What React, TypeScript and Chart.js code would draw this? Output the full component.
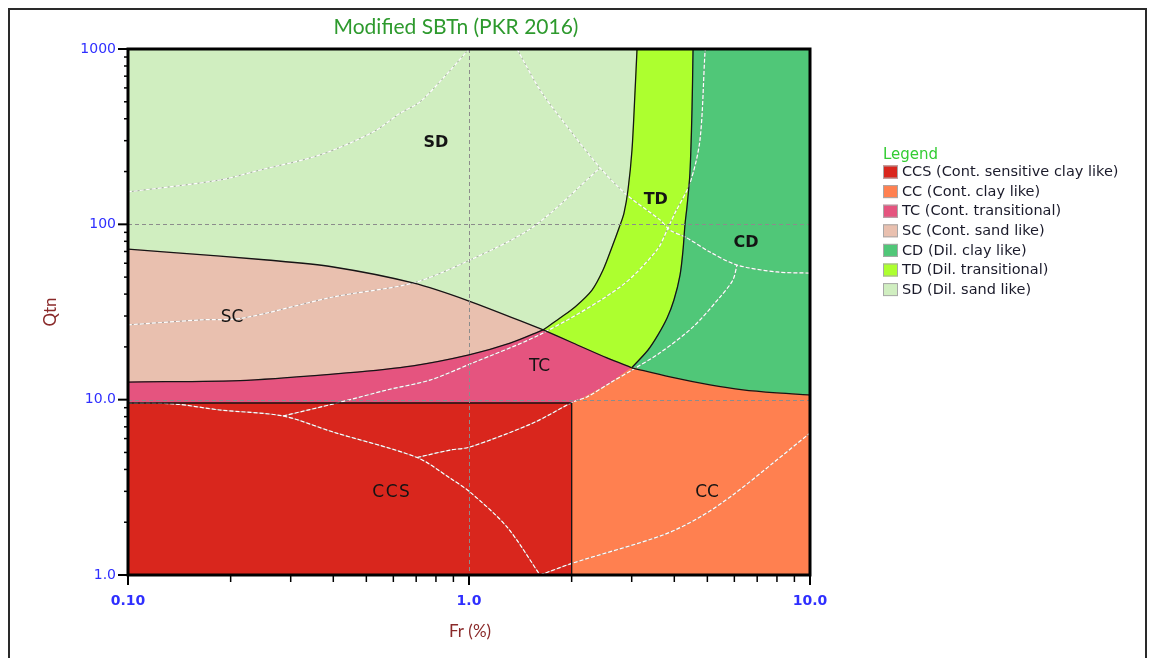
import React, { useEffect, useRef } from "react";
import { Chart, registerables } from "chart.js";

Chart.register(...registerables);

// ---------- axes ----------
const FR_MIN = 0.1;
const FR_MAX = 10;
const QTN_MIN = 1;
const QTN_MAX = 1000;
const FR_TICKS = [0.1, 1, 10];
const FR_TICK_LABELS = ["0.10", "1.0", "10.0"];
const QTN_TICKS = [1, 10, 100, 1000];
const QTN_TICK_LABELS = ["1.0", "10.0", "100", "1000"];

// ---------- zones ----------
const ZONE_CODES = ["CCS", "CC", "TC", "SC", "CD", "TD", "SD"];
const ZONE_NAMES = [
  "CCS (Cont. sensitive clay like)",
  "CC (Cont. clay like)",
  "TC (Cont. transitional)",
  "SC (Cont. sand like)",
  "CD (Dil. clay like)",
  "TD (Dil. transitional)",
  "SD (Dil. sand like)",
];
const ZONE_COLORS = ["#D9261D", "#FF8050", "#E5547F", "#E9C0AF", "#50C778", "#ADFF2F", "#D0EEC0"];
const ZONE_LABEL_FR = [0.594, 4.99, 1.61, 0.202, 6.49, 3.53, 0.8];
const ZONE_LABEL_QTN = [2.94, 2.94, 15.4, 29.2, 78.3, 137.6, 291];

// ---------- boundaries (Fr %, Qtn) ----------
const CCS_TOP_QTN = 9.57;
const CCS_CC_FR = 2.0;
const SD_SC_LINE = [[0.1, 72.3], [0.13, 69.5], [0.256, 62.6], [0.4, 57.1], [0.685, 46.3], [1.0, 36.5], [1.65, 25.0]];
const SC_TC_LINE = [[0.1, 12.6], [0.223, 12.9], [0.438, 14.2], [0.685, 15.6], [1.0, 18.0], [1.32, 21.0], [1.65, 25.0]];
const SD_TD_LINE = [[3.11, 1000], [3.07, 584], [3.006, 265.5], [2.926, 157], [2.848, 116], [2.754, 95.3], [2.627, 74.3], [2.472, 54.9], [2.295, 42.2], [2.046, 33.8], [1.849, 29.2], [1.65, 25.0]];
const TD_CD_LINE = [[4.54, 1000], [4.508, 449], [4.446, 196.3], [4.357, 125.6], [4.3, 100], [4.243, 71.4], [4.158, 51.4], [3.99, 37.0], [3.81, 29.2], [3.583, 23.4], [3.35, 19.2], [3.0, 15.2]];
const TC_TD_LINE = [[1.65, 25.0], [2.018, 21.05], [2.539, 17.3], [3.0, 15.2]];
const CD_CC_LINE = [[3.0, 15.2], [3.885, 13.47], [5.09, 12.13], [6.36, 11.36], [8.0, 10.92], [10, 10.63]];
const TC_CC_LINE = [[2.0, 9.57], [2.2, 10.4], [2.6, 12.5], [3.0, 15.2]];

// ---------- background contours ----------
const CONTOUR_1 = [[0.1, 153], [0.186, 179], [0.244, 204], [0.366, 249], [0.523, 336], [0.628, 430], [0.718, 499], [0.85, 700], [1.0, 1000]];
const CONTOUR_2 = [[1.383, 1000], [1.615, 584], [1.874, 394], [2.423, 210], [2.906, 147], [3.632, 106], [3.885, 92.8], [4.357, 83.6], [5.09, 69.5], [6.107, 58.6], [8.0, 53.5], [10, 52.7]];
const CONTOUR_3 = [[0.1, 26.7], [0.163, 28.5], [0.217, 29.2], [0.399, 38.5], [0.685, 46.3], [1.007, 62.6], [1.541, 96.6], [2.423, 210]];
const CONTOUR_4 = [[0.285, 8.07], [0.41, 9.57], [0.575, 11.36], [0.768, 12.93], [1.007, 15.97], [1.65, 24.0], [2.773, 43.9], [3.558, 71.4], [3.833, 95.3], [4.018, 116], [4.446, 172], [4.757, 303], [4.921, 961], [4.94, 1000]];
const CONTOUR_5 = [[0.704, 4.68], [0.88, 5.16], [1.007, 5.37], [1.541, 7.36], [2.018, 9.7], [2.218, 10.36], [2.59, 12.45], [3.05, 15.0], [3.632, 18.5], [4.54, 26.0], [5.447, 38.5], [5.94, 48.1], [6.107, 58.6]];
const CONTOUR_6 = [[0.1, 9.57], [0.137, 9.45], [0.186, 8.73], [0.285, 8.07], [0.399, 6.54], [0.704, 4.68], [0.88, 3.57], [1.007, 2.97], [1.292, 1.88], [1.615, 1.0]];
const CONTOUR_7 = [[1.615, 1.0], [2.018, 1.17], [3.706, 1.69], [4.757, 2.14], [5.94, 2.86], [7.79, 4.35], [10, 6.45]];

const TENSION = 0.3;

const pts = (a: number[][]) => a.map(([x, y]) => ({ x, y }));
const rev = (a: number[][]) => a.slice().reverse();
const edge = (a: number[], b: number[]) => [a, b];
const join = (...edges: number[][][]) => ([] as number[][]).concat(...edges);

function buildPolygons(): number[][][] {
  const SD_SC0 = SD_SC_LINE[0];
  const SC_TC0 = SC_TC_LINE[0];
  const TD_TOP = SD_TD_LINE[0];
  const CD_TOP = TD_CD_LINE[0];
  const CC_RIGHT = CD_CC_LINE[CD_CC_LINE.length - 1];
  const ccs = join(
    edge([FR_MIN, QTN_MIN], [CCS_CC_FR, QTN_MIN]),
    edge([CCS_CC_FR, QTN_MIN], [CCS_CC_FR, CCS_TOP_QTN]),
    edge([CCS_CC_FR, CCS_TOP_QTN], [FR_MIN, CCS_TOP_QTN]),
    edge([FR_MIN, CCS_TOP_QTN], [FR_MIN, QTN_MIN])
  );
  const cc = join(
    edge([CCS_CC_FR, QTN_MIN], [FR_MAX, QTN_MIN]),
    edge([FR_MAX, QTN_MIN], CC_RIGHT),
    rev(CD_CC_LINE),
    rev(TC_CC_LINE),
    edge([CCS_CC_FR, CCS_TOP_QTN], [CCS_CC_FR, QTN_MIN])
  );
  const tc = join(
    edge([FR_MIN, CCS_TOP_QTN], [CCS_CC_FR, CCS_TOP_QTN]),
    TC_CC_LINE,
    rev(TC_TD_LINE),
    rev(SC_TC_LINE),
    edge(SC_TC0, [FR_MIN, CCS_TOP_QTN])
  );
  const sc = join(SD_SC_LINE, rev(SC_TC_LINE), edge(SC_TC0, SD_SC0));
  const cd = join(TD_CD_LINE, CD_CC_LINE, edge(CC_RIGHT, [FR_MAX, QTN_MAX]), edge([FR_MAX, QTN_MAX], CD_TOP));
  const td = join(edge(TD_TOP, CD_TOP), TD_CD_LINE, rev(TC_TD_LINE), rev(SD_TD_LINE));
  const sd = join(edge([FR_MIN, QTN_MAX], TD_TOP), SD_TD_LINE, rev(SD_SC_LINE), edge(SD_SC0, [FR_MIN, QTN_MAX]));
  return [ccs, cc, tc, sc, cd, td, sd];
}

function buildDatasets() {
  const ds: any[] = [];
  buildPolygons().forEach((poly, i) => {
    ds.push({
      data: pts(poly),
      backgroundColor: ZONE_COLORS[i],
      borderColor: ZONE_COLORS[i],
      borderWidth: 1,
      fill: "shape",
      pointRadius: 0,
      tension: TENSION,
      order: 5,
    });
  });
  const contours = [CONTOUR_1, CONTOUR_2, CONTOUR_3, CONTOUR_4, CONTOUR_5, CONTOUR_6, CONTOUR_7];
  contours.forEach((c) => {
    ds.push({ data: pts(c), borderColor: "rgba(150,150,150,0.75)", borderWidth: 1, fill: false, pointRadius: 0, tension: TENSION, order: 4 });
    ds.push({ data: pts(c), borderColor: "#ffffff", borderWidth: 1.2, borderDash: [4, 2], fill: false, pointRadius: 0, tension: TENSION, order: 3 });
  });
  const blackLines = [
    SD_SC_LINE,
    SC_TC_LINE,
    SD_TD_LINE,
    TD_CD_LINE,
    TC_TD_LINE,
    CD_CC_LINE,
    [[FR_MIN, CCS_TOP_QTN], [CCS_CC_FR, CCS_TOP_QTN]],
    [[CCS_CC_FR, QTN_MIN], [CCS_CC_FR, CCS_TOP_QTN]],
  ];
  blackLines.forEach((l) => {
    ds.push({ data: pts(l), borderColor: "#151515", borderWidth: 1.3, fill: false, pointRadius: 0, tension: TENSION, order: 1 });
  });
  return ds;
}

function minorValues(min: number, max: number) {
  const out: number[] = [];
  for (let d = min; d < max; d *= 10) {
    for (let k = 2; k <= 9; k++) out.push(d * k);
  }
  return out;
}

const overlayPlugin = {
  id: "sbtOverlay",
  afterDatasetsDraw(chart: any) {
    const { ctx, chartArea: a, scales } = chart;
    const x = scales.x;
    const y = scales.y;
    ctx.save();
    ctx.strokeStyle = "#8c8c8c";
    ctx.lineWidth = 1;
    ctx.setLineDash([4, 3]);
    FR_TICKS.forEach((v) => {
      if (v <= FR_MIN || v >= FR_MAX) return;
      const px = Math.round(x.getPixelForValue(v)) + 0.5;
      ctx.beginPath();
      ctx.moveTo(px, a.top);
      ctx.lineTo(px, a.bottom);
      ctx.stroke();
    });
    QTN_TICKS.forEach((v) => {
      if (v <= QTN_MIN || v >= QTN_MAX) return;
      const py = Math.round(y.getPixelForValue(v)) + 0.5;
      ctx.beginPath();
      ctx.moveTo(a.left, py);
      ctx.lineTo(a.right, py);
      ctx.stroke();
    });
    ctx.restore();
  },
  afterDraw(chart: any) {
    const { ctx, chartArea: a, scales } = chart;
    const x = scales.x;
    const y = scales.y;
    ctx.save();
    // frame
    ctx.setLineDash([]);
    ctx.strokeStyle = "#000";
    ctx.lineWidth = 3;
    ctx.strokeRect(a.left, a.top, a.right - a.left, a.bottom - a.top);

    // ticks
    ctx.lineWidth = 2;
    QTN_TICKS.forEach((v) => {
      const py = y.getPixelForValue(v);
      ctx.beginPath();
      ctx.moveTo(a.left - 10, py);
      ctx.lineTo(a.left, py);
      ctx.stroke();
    });
    FR_TICKS.forEach((v) => {
      const px = x.getPixelForValue(v);
      ctx.beginPath();
      ctx.moveTo(px, a.bottom);
      ctx.lineTo(px, a.bottom + 10);
      ctx.stroke();
    });
    ctx.lineWidth = 1.5;
    minorValues(QTN_MIN, QTN_MAX).forEach((v) => {
      const py = y.getPixelForValue(v);
      ctx.beginPath();
      ctx.moveTo(a.left - 4, py);
      ctx.lineTo(a.left, py);
      ctx.stroke();
    });
    minorValues(FR_MIN, FR_MAX).forEach((v) => {
      const px = x.getPixelForValue(v);
      ctx.beginPath();
      ctx.moveTo(px, a.bottom);
      ctx.lineTo(px, a.bottom + 7);
      ctx.stroke();
    });

    // tick labels
    ctx.fillStyle = "#2f2fff";
    ctx.font = '14px "DejaVu Sans"';
    ctx.textAlign = "right";
    ctx.textBaseline = "middle";
    QTN_TICKS.forEach((v, i) => {
      ctx.fillText(QTN_TICK_LABELS[i], a.left - 12, y.getPixelForValue(v));
    });
    ctx.font = 'bold 14px "DejaVu Sans"';
    ctx.textAlign = "center";
    FR_TICKS.forEach((v, i) => {
      ctx.fillText(FR_TICK_LABELS[i], x.getPixelForValue(v), a.bottom + 26);
    });

    // axis titles
    ctx.fillStyle = "#8a2a2a";
    ctx.font = '17px Lato';
    ctx.fillText("Fr (%)", 470, 632);
    ctx.save();
    ctx.translate(51, 312);
    ctx.rotate(-Math.PI / 2);
    ctx.fillText("Qtn", 0, 0);
    ctx.restore();

    // chart title
    ctx.fillStyle = "#2e9a2e";
    ctx.font = '21px Lato';
    ctx.fillText("Modified SBTn (PKR 2016)", 456, 27);

    // zone labels
    ctx.fillStyle = "#141414";
    ZONE_CODES.forEach((code, i) => {
      const bold = code === "SD" || code === "TD" || code === "CD";
      ctx.font = (bold ? "bold 16px" : "17px") + ' "DejaVu Sans"';
      (ctx as any).letterSpacing = code === "CCS" ? "1.5px" : "0px";
      ctx.fillText(code, x.getPixelForValue(ZONE_LABEL_FR[i]), y.getPixelForValue(ZONE_LABEL_QTN[i]));
    });
    (ctx as any).letterSpacing = "0px";

    // legend
    ctx.textAlign = "left";
    ctx.fillStyle = "#33cc33";
    ctx.font = '15px "DejaVu Sans"';
    ctx.fillText("Legend", 883, 155);
    ctx.font = '14.5px "DejaVu Sans"';
    ZONE_NAMES.forEach((name, i) => {
      const cy = 172 + i * 19.6;
      ctx.fillStyle = ZONE_COLORS[i];
      ctx.fillRect(883, cy - 6.5, 15, 13);
      ctx.strokeStyle = "#a8a8a8";
      ctx.lineWidth = 1;
      ctx.strokeRect(883.5, cy - 6, 14, 12);
      ctx.fillStyle = "#1a1a2a";
      ctx.fillText(name, 902, cy + 0.5);
    });
    ctx.restore();
  },
};

export default function App() {
  const ref = useRef<HTMLCanvasElement>(null);
  useEffect(() => {
    if (!ref.current) return;
    const chart = new Chart(ref.current, {
      type: "line",
      data: { datasets: buildDatasets() },
      options: {
        responsive: false,
        animation: false,
        devicePixelRatio: 1,
        events: [],
        layout: { padding: { left: 128, top: 49, right: 344, bottom: 83 } },
        plugins: { legend: { display: false }, tooltip: { enabled: false }, title: { display: false } },
        scales: {
          x: { type: "logarithmic", min: FR_MIN, max: FR_MAX, display: false },
          y: { type: "logarithmic", min: QTN_MIN, max: QTN_MAX, display: false },
        },
      },
      plugins: [overlayPlugin],
    } as any);
    return () => chart.destroy();
  }, []);
  return (
    <div style={{ position: "fixed", left: 0, top: 0, width: 1154, height: 658, background: "#fff", overflow: "hidden" }}>
      <canvas ref={ref} width={1154} height={658} style={{ position: "absolute", left: 0, top: 0, width: 1154, height: 658 }} />
      <div style={{ position: "absolute", left: 8, top: 8, width: 1135, height: 660, border: "2px solid #2a2a2a", pointerEvents: "none" }} />
    </div>
  );
}
